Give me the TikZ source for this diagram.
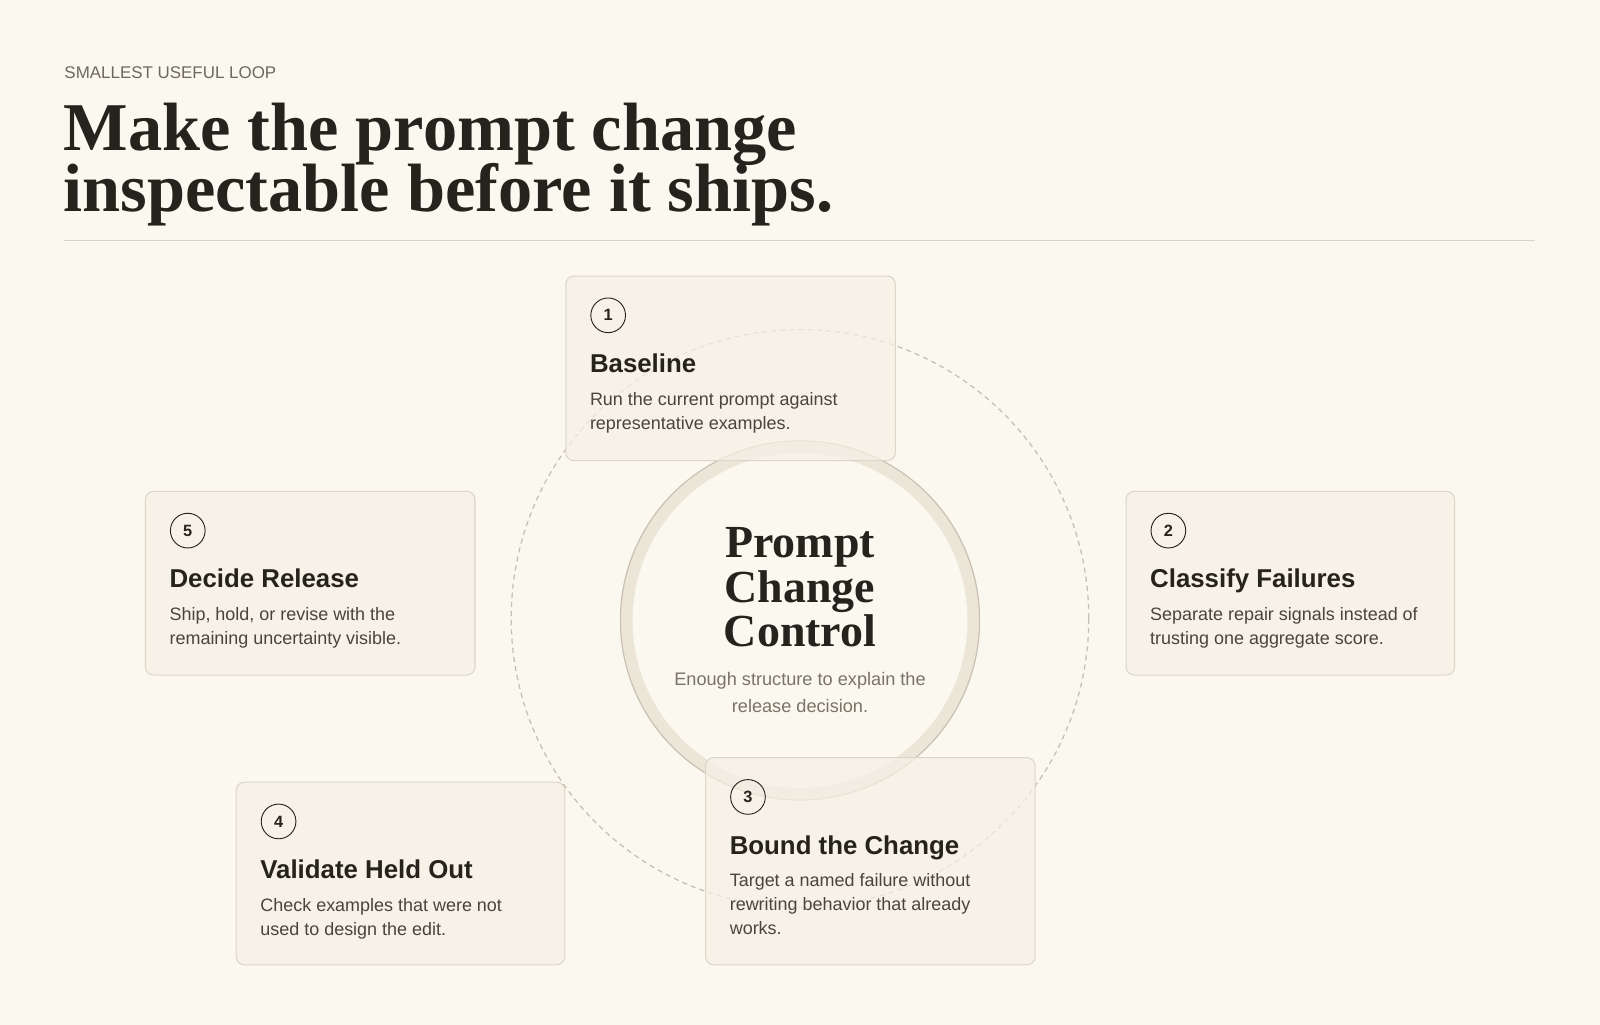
\documentclass[tikz,border=0pt]{standalone}
\usepackage{fontspec}
\setmainfont{Liberation Serif}
\setsansfont{Liberation Sans}
\usetikzlibrary{calc}
\definecolor{bg}{HTML}{FBF8F0}
\definecolor{ink}{HTML}{26221C}
\definecolor{body}{HTML}{4A453C}
\definecolor{muted}{HTML}{6E685D}
\definecolor{sub}{HTML}{7A7366}
\definecolor{cardfill}{HTML}{F5F1E6}
\definecolor{cardline}{HTML}{DDD6C8}
\definecolor{dashc}{HTML}{C5BEB1}
\definecolor{ring}{HTML}{ECE6D9}
\definecolor{ringline}{HTML}{C9C1B2}
\definecolor{rulec}{HTML}{D9D3C7}
\newcommand{\tightlines}{\lineskiplimit=-100pt\relax}
\tikzset{
  cardbox/.style={draw=cardline, line width=1pt, fill=cardfill, fill opacity=0.72, rounded corners=8pt, anchor=north west, inner sep=0pt},
  numbadge/.style={circle, draw=ink, line width=0.9pt, minimum size=34pt, inner sep=0pt, text=ink, font=\sffamily\bfseries\fontsize{16}{18}\selectfont},
  cardtitle/.style={anchor=base west, inner sep=0pt, text=ink, font=\sffamily\bfseries\fontsize{25.3}{28}\selectfont},
  carddesc/.style={anchor=base west, inner sep=0pt, text=body, align=left, font=\sffamily\fontsize{17.6}{23.5}\selectfont},
}
% #9 = offset of the LAST line's baseline from the card top
\newcommand{\stepcard}[9]{%
  \node[cardbox, minimum width=#4pt, minimum height=#5pt] (#1) at (#2,#3) {};
  \node[numbadge] (#1num) at ($(#1.north west)+(42,39)$) {#6};
  \node[cardtitle] (#1title) at ($(#1.north west)+(24,95)$) {#7};
  \node[carddesc] (#1desc) at ($(#1.north west)+(24,#9)$) {#8};
}
\begin{document}
\begin{tikzpicture}[x=1pt,y=-1pt]
\useasboundingbox (0,0) rectangle (1568,1004);
\fill[bg] (0,0) rectangle (1568,1004);

% header
\node[anchor=base west, inner sep=0pt, text=muted, font=\sffamily\fontsize{16.6}{18}\selectfont] (kicker) at (63,77) {SMALLEST USEFUL LOOP};
\node[anchor=base west, inner sep=0pt, text=ink, align=left, font=\bfseries\fontsize{67}{60}\selectfont\tightlines] (head) at (62,207) {Make the prompt change\\inspectable before it ships.};
\coordinate (ruleL) at (63,236);
\coordinate (ruleR) at (1504,236);
\draw[rulec, line width=1pt] (ruleL) -- (ruleR);

% loop
\node[circle, draw=dashc, line width=1.2pt, dash pattern=on 5pt off 4pt, minimum size=566pt, inner sep=0pt] (loop) at (784,606) {};

% core
\node[circle, fill=ring, draw=ringline, line width=1.2pt, minimum size=352pt, inner sep=0pt] (core) at (784,608) {};
\node[circle, fill=bg, minimum size=328pt, inner sep=0pt] (coreinner) at (784,608) {};
\node[anchor=base, inner sep=0pt, text=ink, align=center, font=\bfseries\fontsize{45}{44}\selectfont\tightlines] (coretitle) at (784,634) {Prompt\\Change\\Control};
\node[anchor=base, inner sep=0pt, text=sub, align=center, font=\sffamily\fontsize{17.8}{26}\selectfont] (coresub) at (784,698) {Enough structure to explain the\\release decision.};

% cards
\stepcard{c1}{554}{270}{323}{181}{1}{Baseline}{Run the current prompt against\\representative examples.}{150.5}
\stepcard{c2}{1103}{481}{322}{180}{2}{Classify Failures}{Separate repair signals instead of\\trusting one aggregate score.}{150.5}
\stepcard{c3}{691}{742}{323}{203}{3}{Bound the Change}{Target a named failure without\\rewriting behavior that already\\works.}{174}
\stepcard{c4}{231}{766}{322}{179}{4}{Validate Held Out}{Check examples that were not\\used to design the edit.}{150.5}
\stepcard{c5}{142}{481}{323}{180}{5}{Decide Release}{Ship, hold, or revise with the\\remaining uncertainty visible.}{150.5}
\end{tikzpicture}
\end{document}
